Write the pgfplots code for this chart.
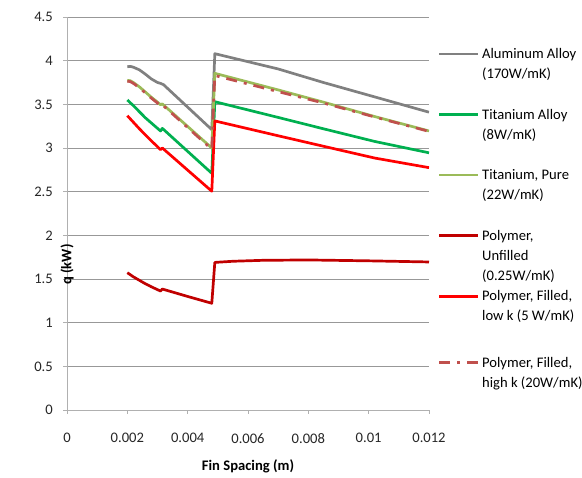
\documentclass[border=0pt]{standalone}
\usepackage{fontspec}
\setmainfont{Carlito}
\usepackage{pgfplots}
\pgfplotsset{compat=1.18}

\definecolor{alu}{HTML}{808080}
\definecolor{tialloy}{HTML}{00B050}
\definecolor{tipure}{HTML}{9BBB59}
\definecolor{polyunf}{HTML}{C00000}
\definecolor{polylow}{HTML}{FF0000}
\definecolor{polyhigh}{HTML}{C0504D}
\definecolor{gridgray}{HTML}{989898}
\definecolor{axisgray}{HTML}{B0B0B0}

% heat rate q (kW) against fin spacing (m)
\pgfplotstableread{
x        q
0.0020   3.930
0.0021   3.935
0.0022   3.925
0.0024   3.895
0.0026   3.845
0.0028   3.790
0.0030   3.750
0.0031   3.740
0.0032   3.725
0.0048   3.210
0.0049   4.080
0.0070   3.905
0.0085   3.750
0.0102   3.585
0.0120   3.410
}\aluminum

\pgfplotstableread{
x        q
0.0020   3.550
0.0022   3.485
0.0024   3.415
0.0026   3.345
0.0028   3.285
0.0030   3.225
0.0031   3.195
0.00316  3.225
0.0048   2.710
0.0049   3.530
0.0070   3.350
0.0085   3.220
0.0102   3.075
0.0120   2.945
}\tialloy

\pgfplotstableread{
x        q
0.0020   3.775
0.0021   3.770
0.0022   3.750
0.0024   3.700
0.0026   3.640
0.0028   3.580
0.0030   3.525
0.0031   3.495
0.00316  3.505
0.0048   3.000
0.0049   3.855
0.0070   3.665
0.0085   3.525
0.0102   3.360
0.0120   3.195
}\tipure

\pgfplotstableread{
x        q
0.0020   1.572
0.0022   1.525
0.0024   1.485
0.0026   1.445
0.0028   1.410
0.0030   1.378
0.0031   1.362
0.00316  1.385
0.0040   1.300
0.0048   1.222
0.0049   1.690
0.0055   1.703
0.0065   1.714
0.0080   1.718
0.0100   1.708
0.0120   1.695
}\polyunfilled

\pgfplotstableread{
x        q
0.0020   3.370
0.0022   3.295
0.0024   3.220
0.0026   3.150
0.0028   3.080
0.0030   3.015
0.0031   2.980
0.00316  3.000
0.0048   2.505
0.0049   3.310
0.0070   3.140
0.0085   3.020
0.0102   2.885
0.0120   2.775
}\polylowk

\pgfplotstableread{
x        q
0.0020   3.765
0.0021   3.760
0.0022   3.740
0.0024   3.690
0.0026   3.630
0.0028   3.570
0.0030   3.515
0.0031   3.485
0.00316  3.495
0.0048   2.985
0.0049   3.830
0.0070   3.645
0.0085   3.515
0.0102   3.355
0.0120   3.190
}\polyhighk

% one legend line; the rule fixes the distance from the line above
\newcommand{\lline}[1]{\rule{0pt}{14pt}#1}
\newcommand{\more}[1]{\addlegendimage{empty legend}\addlegendentry{\lline{#1}}}

\begin{document}
\fontsize{14.6}{21}\selectfont
\begin{tikzpicture}
\path[use as bounding box] (-67pt,-68pt) rectangle (515pt,410pt);
\begin{axis}[
  scale only axis,
  width=362pt, height=393pt,
  at={(0pt,0pt)}, anchor=south west,
  xmin=0, xmax=0.012, ymin=0, ymax=4.5,
  axis x line*=bottom, axis y line*=left,
  axis line style={-, draw=axisgray, line width=0.8pt},
  xtick={0,0.002,0.004,0.006,0.008,0.01,0.012},
  xticklabels={0,0.002,0.004,0.006,0.008,0.01,0.012},
  ytick={0,0.5,1,1.5,2,2.5,3,3.5,4,4.5},
  yticklabels={0,0.5,1,1.5,2,2.5,3,3.5,4,4.5},
  scaled x ticks=false,
  tick align=outside,
  major tick length=4pt,
  tick style={draw=axisgray, line width=0.8pt},
  xticklabel style={anchor=north, inner sep=0pt, yshift=-19pt, text=black!85},
  yticklabel style={anchor=east, inner sep=0pt, xshift=-10pt, text=black!85},
  ymajorgrids,
  major grid style={draw=gridgray, line width=0.8pt},
  xlabel={\textbf{Fin Spacing (m)}},
  ylabel={\textbf{q (kW)}},
  every axis x label/.style={at={(axis description cs:0.5,0)}, anchor=center, yshift=-56pt},
  every axis y label/.style={at={(axis description cs:0,0.5)}, rotate=90, anchor=center, xshift=-51pt},
  legend style={draw=none, fill=none, inner sep=0pt, outer sep=0pt,
    at={(axis description cs:1,1)}, anchor=north west,
    xshift=9pt, yshift=-25.5pt,
    row sep=0pt, column sep=0.5pt,
    cells={anchor=base west, inner sep=0pt, text depth=0pt}},
  legend image code/.code={\draw[#1] (0pt,4.5pt) -- (39pt,4.5pt);},
  every axis plot/.append style={line width=2.7pt, line join=round},
]
\addplot[alu] table {\aluminum};
\addlegendentry{\lline{Aluminum Alloy}}
\more{(170W/mK)}
\more{}
\addplot[tialloy] table {\tialloy};
\addlegendentry{\lline{Titanium Alloy}}
\more{(8W/mK)}
\more{}
\addplot[tipure] table {\tipure};
\addlegendentry{\lline{Titanium, Pure}}
\more{(22W/mK)}
\more{}
\addplot[polyunf] table {\polyunfilled};
\addlegendentry{\lline{Polymer,}}
\more{Unfilled}
\more{(0.25W/mK)}
\addplot[polylow] table {\polylowk};
\addlegendentry{\lline{Polymer, Filled,}}
\more{low k (5 W/mK)}
\more{}
\addplot[polyhigh, dash pattern=on 11pt off 7pt on 3pt off 7pt] table {\polyhighk};
\addlegendentry{\rule{0pt}{19.8pt}Polymer, Filled,}
\more{high k (20W/mK)}
\end{axis}
\end{tikzpicture}
\end{document}
